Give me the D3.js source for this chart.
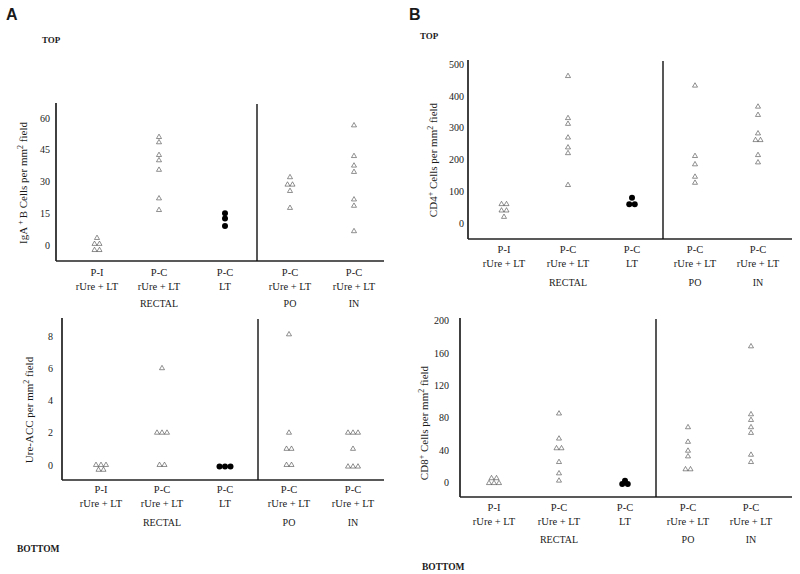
<!DOCTYPE html>
<html><head><meta charset="utf-8">
<script src="https://cdn.jsdelivr.net/npm/d3@7"></script>
<style>
body{margin:0;background:#fff;}
svg{display:block;}
svg text{font-family:"Liberation Serif","Times New Roman",serif !important;fill:#1a1a1a;}
svg text.sans{font-family:"Liberation Sans",Arial,sans-serif !important;}
</style></head>
<body>
<svg id="chart" width="800" height="574"></svg>
<script>
// ---- data ----
const groups = ["P-I","P-C","P-C","P-C","P-C"];
const treatments = ["rUre + LT","rUre + LT","LT","rUre + LT","rUre + LT"];
const routes = ["","RECTAL","","PO","IN"];
const markerTypes = ["tri","tri","dot","tri","tri"];

const igaTicks = [0,15,30,45,60];
const igaValues = [
  [3.3,0.5,0.5,-2.4,-2.4],
  [51,48.5,42.5,40,35.5,22,16.5],
  [15,12.5,9],
  [32,28.5,28.5,25.5,17.5],
  [56.5,42,37.5,34.5,21.5,18.5,6.5]
];
const ureTicks = [0,2,4,6,8];
const ureValues = [
  [0,0,0,-0.3,-0.3],
  [6,2,2,2,0,0],
  [-0.1,-0.1,-0.1],
  [8.1,2,1,1,0,0],
  [2,2,2,1,-0.1,-0.1,-0.1]
];
const cd4Ticks = [0,100,200,300,400,500];
const cd4Values = [
  [60,60,40,40,20],
  [462,330,312,269,238,220,120],
  [80,60,60],
  [432,211,185,146,127],
  [366,340,282,261,261,214,191]
];
const cd8Ticks = [0,40,80,120,160,200];
const cd8Values = [
  [5,5,-1,-1,-1],
  [85,54,42,42,25,11,2],
  [2,-2,-2],
  [68,50,39,32,16,16],
  [168,84,77,68,61,34,25]
];

// ---- layout ----
const svg = d3.select("#chart");

const panels = [
  {values: igaValues, ticks: igaTicks, label: [["IgA",""],[" + ","sup"],["B Cells per mm",""],["2","sup"],[" field",""]],
   ax: 56, top: 103, bottom: 261, right: 384, divider: 257, y0: 245, y1: 118,
   catX: [97,159,225,290,354], rows: [272,286,303], labX: 27, labY: 183, tickPad: 6},
  {values: ureValues, ticks: ureTicks, label: [["Ure-ACC per mm",""],["2","sup"],[" field",""]],
   ax: 62, top: 318, bottom: 480, right: 384, divider: 258, y0: 465, y1: 336,
   catX: [101,162,225,289,353], rows: [489,503,522], labX: 33, labY: 410, tickPad: 9},
  {values: cd4Values, ticks: cd4Ticks, label: [["CD4",""],["+","sup"],[" Cells per mm",""],["2","sup"],[" field",""]],
   ax: 468, top: 60, bottom: 239, right: 792, divider: 663, y0: 223.3, y1: 64,
   catX: [504,568,632,695,758], rows: [249,263,282], labX: 437, labY: 160, tickPad: 4},
  {values: cd8Values, ticks: cd8Ticks, label: [["CD8",""],["+","sup"],[" Cells per mm",""],["2","sup"],[" field",""]],
   ax: 460, top: 318, bottom: 497, right: 792, divider: 656, y0: 482.3, y1: 320.5,
   catX: [494,559,625,688,751], rows: [507,521,539], labX: 428, labY: 423, tickPad: 11}
];

const triPath = d3.symbol(d3.symbolTriangle, 11)();

panels.forEach(p => {
  const g = svg.append("g");
  const tmax = p.ticks[p.ticks.length-1];
  const y = d3.scaleLinear().domain([0, tmax]).range([p.y0, p.y1]);
  const cx = d3.scaleOrdinal().domain(d3.range(groups.length)).range(p.catX);

  // axes lines
  g.append("line").attr("x1", p.ax).attr("x2", p.ax).attr("y1", p.top).attr("y2", p.bottom)
    .attr("stroke", "#111").attr("stroke-width", 1.6);
  g.append("line").attr("x1", p.ax).attr("x2", p.right).attr("y1", p.bottom).attr("y2", p.bottom)
    .attr("stroke", "#222").attr("stroke-width", 1.6);
  g.append("line").attr("x1", p.divider).attr("x2", p.divider).attr("y1", p.top + 1).attr("y2", p.bottom)
    .attr("stroke", "#111").attr("stroke-width", 1.4);

  // tick labels (no tick marks)
  const yAxis = d3.axisLeft(y).tickValues(p.ticks).tickSize(0).tickPadding(p.tickPad);
  const ag = g.append("g").attr("transform", `translate(${p.ax},0)`).call(yAxis);
  ag.attr("font-family", null);
  ag.select(".domain").remove();
  ag.selectAll("text").attr("font-size", 10).attr("fill", "#1a1a1a");

  // y label
  const lab = g.append("text").attr("transform", `translate(${p.labX},${p.labY}) rotate(-90)`)
    .attr("text-anchor", "middle").attr("font-size", 11);
  p.label.forEach(([t, k]) => {
    const ts = lab.append("tspan").text(t);
    if (k === "sup") ts.attr("baseline-shift", "super").attr("font-size", 8);
  });

  // category labels
  groups.forEach((gname, i) => {
    g.append("text").attr("x", cx(i)).attr("y", p.rows[0] + 4).attr("text-anchor", "middle")
      .attr("font-size", 10.5).text(gname);
    g.append("text").attr("x", cx(i)).attr("y", p.rows[1] + 4).attr("text-anchor", "middle")
      .attr("font-size", 10.5).text(treatments[i]);
    if (routes[i]) g.append("text").attr("x", cx(i)).attr("y", p.rows[2] + 4).attr("text-anchor", "middle")
      .attr("font-size", 10).text(routes[i]);
  });

  // points: dodge equal values horizontally
  p.values.forEach((vals, i) => {
    const counts = d3.rollup(vals, v => v.length, v => v);
    const seen = new Map();
    const sp = markerTypes[i] === "dot" ? 5.5 : 5;
    vals.forEach(v => {
      const n = counts.get(v);
      const k = seen.get(v) || 0; seen.set(v, k + 1);
      const px = cx(i) + (k - (n - 1) / 2) * sp;
      const py = y(v);
      if (markerTypes[i] === "dot") {
        g.append("circle").attr("cx", px).attr("cy", py).attr("r", 3).attr("fill", "#000");
      } else {
        g.append("path").attr("d", triPath).attr("transform", `translate(${px},${py})`)
          .attr("fill", "none").attr("stroke", "#444").attr("stroke-width", 0.6);
      }
    });
  });
});

// panel letters & headings
svg.append("text").attr("class", "sans").attr("x", 6).attr("y", 20).attr("font-size", 16).attr("font-weight", "bold").text("A");
svg.append("text").attr("class", "sans").attr("x", 409).attr("y", 20).attr("font-size", 16).attr("font-weight", "bold").text("B");
svg.append("text").attr("x", 42).attr("y", 43).attr("font-size", 9).attr("font-weight", "bold").text("TOP");
svg.append("text").attr("x", 420).attr("y", 39).attr("font-size", 9).attr("font-weight", "bold").text("TOP");
svg.append("text").attr("x", 17).attr("y", 552).attr("font-size", 9.5).attr("font-weight", "bold").text("BOTTOM");
svg.append("text").attr("x", 422).attr("y", 570).attr("font-size", 9.5).attr("font-weight", "bold").text("BOTTOM");
</script>
</body></html>
